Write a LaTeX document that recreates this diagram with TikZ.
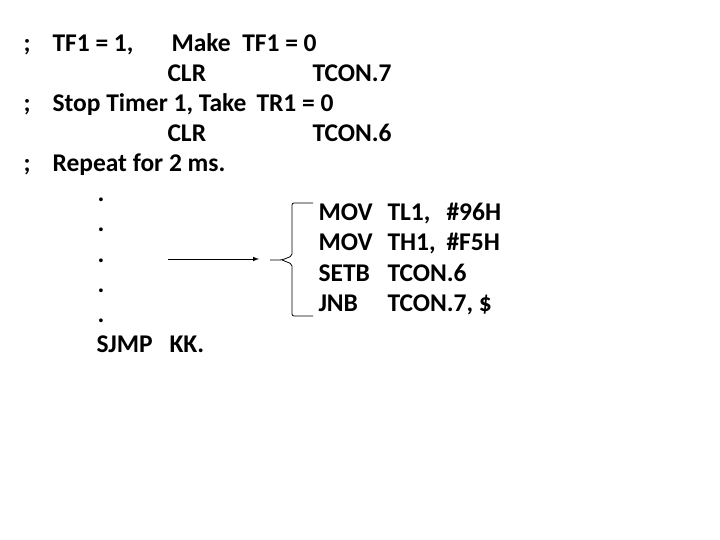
\documentclass[tikz,border=0pt]{standalone}
\usepackage{fontspec}
\setmainfont{Carlito}
\usetikzlibrary{positioning,arrows}

\begin{document}
\begin{tikzpicture}[x=1pt,y=-1pt,line width=1pt,>=latex,
  txt/.style={anchor=base west,inner sep=0pt,font=\fontsize{25.5}{30}\selectfont\bfseries}]
\useasboundingbox (0,0) rectangle (720,540);

% comment lines and the two clears
\node[txt] (s1) at (23,52) {;};
\node[txt] (a1) at (52,52) {TF1 = 1,};
\node[txt] (b1) at (171,52) {Make\ \ TF1 = 0};
\node[txt] (clr1) at (167,82) {CLR};
\node[txt] (tc7) at (312,82) {TCON.7};
\node[txt] (s2) at (23,112) {;};
\node[txt] (a2) at (52,112) {Stop Timer 1, Take};
\node[txt] (b2) at (256,112) {TR1 = 0};
\node[txt] (clr2) at (167,142) {CLR};
\node[txt] (tc6) at (312,142) {TCON.6};
\node[txt] (s3) at (23,172) {;};
\node[txt] (a3) at (52,172) {Repeat for 2 ms.};

% dots
\foreach \i in {1,...,5}
  \node[txt] (d\i) at (97,172+30*\i) {.};
\node[txt] (sjmp) at (96,352) {SJMP};
\node[txt] (kk) at (169,352) {KK.};

% delay routine
\node[txt] (op1) at (318,221) {MOV};
\node[txt] (op2) at (318,251) {MOV};
\node[txt] (op3) at (318,281) {SETB};
\node[txt] (op4) at (318,311) {JNB};
\node[txt] (r1) at (387,221) {TL1,};
\node[txt] (r2) at (387,251) {TH1,};
\node[txt] (r3) at (387,281) {TCON.6};
\node[txt] (r4) at (387,311) {TCON.7, \$};
\node[txt] (v1) at (446,221) {\#96H};
\node[txt] (v2) at (446,251) {\#F5H};

% brace
\coordinate (btop) at (313,203);
\coordinate (bbot) at (313,316);
\coordinate (btip) at (270,260);
\draw[line width=0.8pt,rounded corners=2pt] (btop) -| (292,256) -- (282,260) -- (btip);
\draw[line width=0.8pt,rounded corners=2pt] (bbot) -| (292,264) -- (282,260);

% arrow
\coordinate (src) at (168,259);
\coordinate (dst) at (259,259);
\draw[->] (src) -- (dst);
\end{tikzpicture}
\end{document}
